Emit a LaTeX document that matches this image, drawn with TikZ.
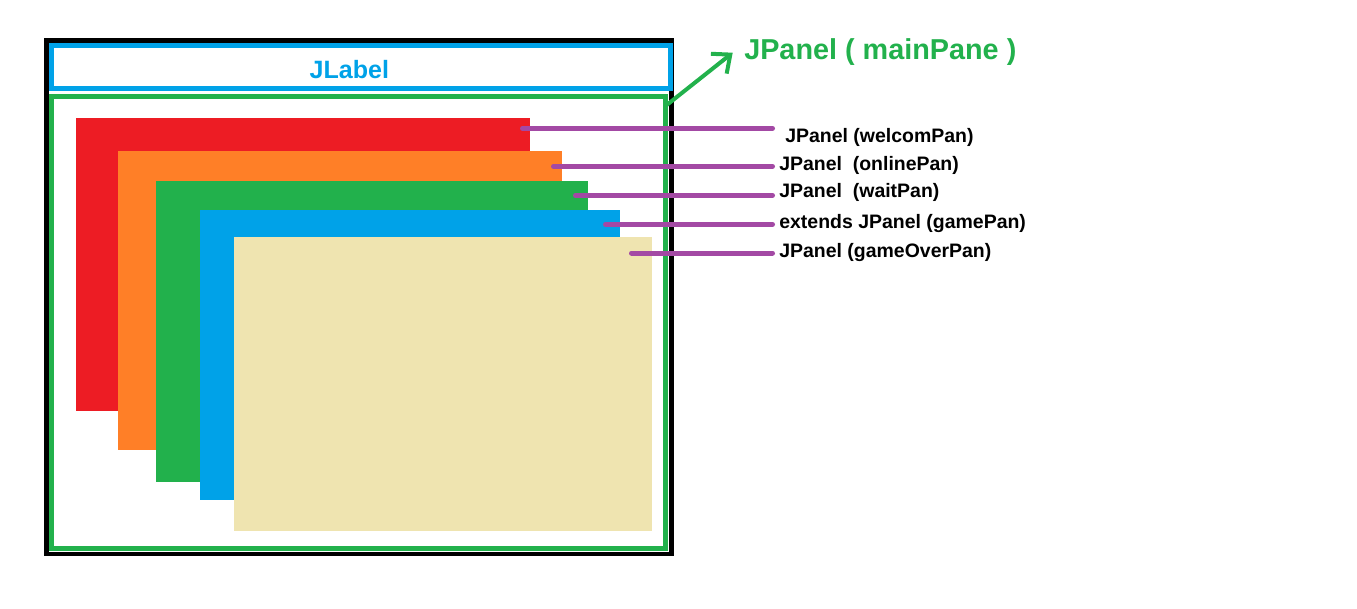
\documentclass[tikz,border=0pt]{standalone}
\usepackage{fontspec}
\setmainfont{Liberation Sans}
\usetikzlibrary{arrows.meta}
\definecolor{mpRed}{HTML}{ED1C24}
\definecolor{mpOrange}{HTML}{FF7F27}
\definecolor{mpGreen}{HTML}{22B14C}
\definecolor{mpBlue}{HTML}{00A2E8}
\definecolor{mpBeige}{HTML}{EFE4B0}
\definecolor{mpPurple}{HTML}{A349A4}
\newcommand{\pix}{0.75pt}

\begin{document}
\begin{tikzpicture}[x=0.75pt,y=-0.75pt,
  box/.style={draw,inner sep=0pt,outer sep=0pt,anchor=north west},
  pan/.style={fill=#1,inner sep=0pt,outer sep=0pt,anchor=north west},
  lead/.style={draw=mpPurple,line width=3.75pt,line cap=round},
  lbl/.style={anchor=base west,inner xsep=4.9pt,inner ysep=0pt,font=\bfseries\fontsize{14.6}{17}\selectfont},
  pointer/.style={draw=mpGreen,line width=3pt,-{Straight Barb[length=11pt,width=19pt]}}]
  \useasboundingbox (0,0) rectangle (1357,608);

  % window frame
  \node[box,line width=3.4pt,minimum width=625.4*\pix,minimum height=513.7*\pix] (frame) at (46.3,40.5) {};

  % label strip
  \node[box,draw=mpBlue,line width=3.6pt,minimum width=619.2*\pix,minimum height=42.4*\pix] (strip) at (51.3,45.8) {};
  \node[anchor=base,inner sep=0pt,text=mpBlue,font=\bfseries\fontsize{18.8}{22}\selectfont] (jlabel) at (349.3,78) {JLabel};

  % main pane
  \node[box,draw=mpGreen,line width=3.45pt,minimum width=614.2*\pix,minimum height=451.6*\pix] (main) at (51.3,96.7) {};
  \node[anchor=base west,inner sep=0pt,text=mpGreen,font=\bfseries\fontsize{21.6}{26}\selectfont] (mainTxt) at (744,59.5) {JPanel ( mainPane )};
  \coordinate (tip) at (732.7,52.7);
  \draw[pointer] ([shift={(1.2,8.3)}]main.north east) -- (tip);

  % stacked panels
  \node[pan=mpRed,minimum width=454*\pix,minimum height=293*\pix] (welcomPan) at (76,118) {};
  \node[pan=mpOrange,minimum width=444*\pix,minimum height=299*\pix] (onlinePan) at (118,151) {};
  \node[pan=mpGreen,minimum width=432*\pix,minimum height=300.7*\pix] (waitPan) at (156,181) {};
  \node[pan=mpBlue,minimum width=420*\pix,minimum height=289.7*\pix] (gamePan) at (200,210) {};
  \node[pan=mpBeige,minimum width=418*\pix,minimum height=293.7*\pix] (overPan) at (234,237) {};

  % panel names
  \node[lbl] (welcomTxt) at (772.5,142.5) {\hspace{4.5pt}JPanel (welcomPan)};
  \node[lbl] (onlineTxt) at (772.5,170) {JPanel\ \ (onlinePan)};
  \node[lbl] (waitTxt) at (772.5,197.5) {JPanel\ \ (waitPan)};
  \node[lbl] (gameTxt) at (772.5,228.5) {extends JPanel (gamePan)};
  \node[lbl] (overTxt) at (772.5,257.5) {JPanel (gameOverPan)};

  % leader lines
  \coordinate (welcomEnd) at (522.5,128.3);
  \coordinate (onlineEnd) at (553.5,166.3);
  \coordinate (waitEnd) at (575.5,195.3);
  \coordinate (gameEnd) at (605.5,224.3);
  \coordinate (overEnd) at (631.5,253);
  \draw[lead] (welcomEnd) -- (welcomEnd -| welcomTxt.west);
  \draw[lead] (onlineEnd) -- (onlineEnd -| onlineTxt.west);
  \draw[lead] (waitEnd) -- (waitEnd -| waitTxt.west);
  \draw[lead] (gameEnd) -- (gameEnd -| gameTxt.west);
  \draw[lead] (overEnd) -- (overEnd -| overTxt.west);

\end{tikzpicture}
\end{document}
